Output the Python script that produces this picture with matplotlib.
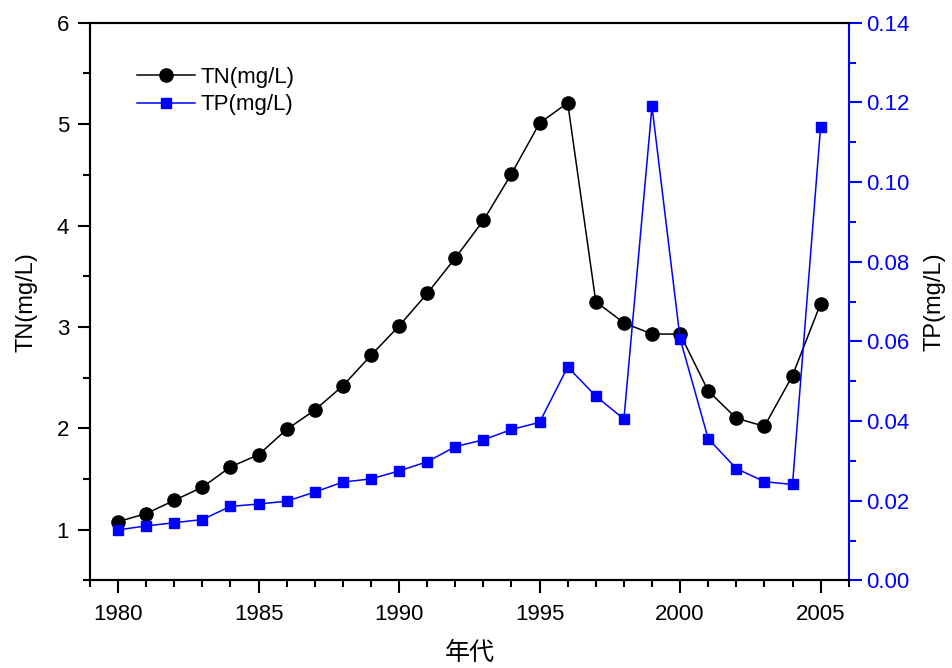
import matplotlib
matplotlib.use('Agg')
import matplotlib.pyplot as plt
from matplotlib.ticker import MultipleLocator

plt.rcParams['font.family'] = ['Liberation Sans', 'DejaVu Sans']

# data
years = list(range(1980, 2006))
tn = [1.08, 1.16, 1.29, 1.42, 1.62, 1.74, 1.99, 2.18, 2.42, 2.72,
      3.01, 3.33, 3.68, 4.05, 4.51, 5.01, 5.21, 3.25, 3.04, 2.93,
      2.93, 2.37, 2.10, 2.02, 2.52, 3.23]
tp = [0.0127, 0.0137, 0.0145, 0.0153, 0.0186, 0.0192, 0.0199, 0.0222, 0.0247, 0.0255,
      0.0275, 0.0298, 0.0336, 0.0353, 0.0379, 0.0397, 0.0536, 0.0463, 0.0405, 0.1190,
      0.0607, 0.0356, 0.0281, 0.0248, 0.0241, 0.1139]

fig = plt.figure(figsize=(9.52, 6.68), dpi=100)
ax1 = fig.add_axes([0.0945, 0.131, 0.797, 0.835])
ax2 = ax1.twinx()

# TN on left axis
l1, = ax1.plot(years, tn, color='black', marker='o', markersize=9.5, linewidth=1.1,
               label='TN(mg/L)')
ax1.set_xlim(1979, 2006)
ax1.set_ylim(0.5, 6)
ax1.xaxis.set_major_locator(MultipleLocator(5))
ax1.xaxis.set_minor_locator(MultipleLocator(1))
ax1.yaxis.set_major_locator(MultipleLocator(1))
ax1.yaxis.set_minor_locator(MultipleLocator(0.5))
ax1.set_ylabel('TN(mg/L)', fontsize=17, labelpad=14)
ax1.set_xlabel('年代', fontsize=18, family=['Noto Sans CJK SC', 'DejaVu Sans'], labelpad=11)
ax1.tick_params(axis='both', which='major', direction='out', length=9, width=1.5, labelsize=16)
ax1.tick_params(axis='both', which='minor', direction='out', length=5, width=1.5)
ax1.tick_params(axis='x', pad=8)
ax1.tick_params(axis='y', pad=6)

# TP on right axis
l2, = ax2.plot(years, tp, color='blue', marker='s', markersize=7.5, linewidth=1.1,
               label='TP(mg/L)')
ax2.set_ylim(0, 0.14)
ax2.yaxis.set_major_locator(MultipleLocator(0.02))
ax2.yaxis.set_minor_locator(MultipleLocator(0.01))
ax2.yaxis.set_major_formatter(plt.FormatStrFormatter('%.2f'))
ax2.set_ylabel('TP(mg/L)', fontsize=17, labelpad=10)
ax2.tick_params(axis='y', which='major', direction='out', length=9, width=1.5,
                labelsize=16, colors='blue')
ax2.tick_params(axis='y', which='minor', direction='out', length=5, width=1.5, colors='blue')
ax2.yaxis.label.set_color('black')

for s in ['left', 'bottom', 'top']:
    ax1.spines[s].set_linewidth(1.5)
    ax2.spines[s].set_linewidth(1.5)
ax2.spines['right'].set_linewidth(1.5)
ax2.spines['right'].set_color('blue')
ax1.spines['right'].set_visible(False)

ax1.legend(handles=[l1, l2], loc='upper left', bbox_to_anchor=(0.036, 0.957),
           frameon=False, fontsize=16, handlelength=2.6, handletextpad=0.25,
           labelspacing=0.3)

plt.savefig('out.png', dpi=100)
